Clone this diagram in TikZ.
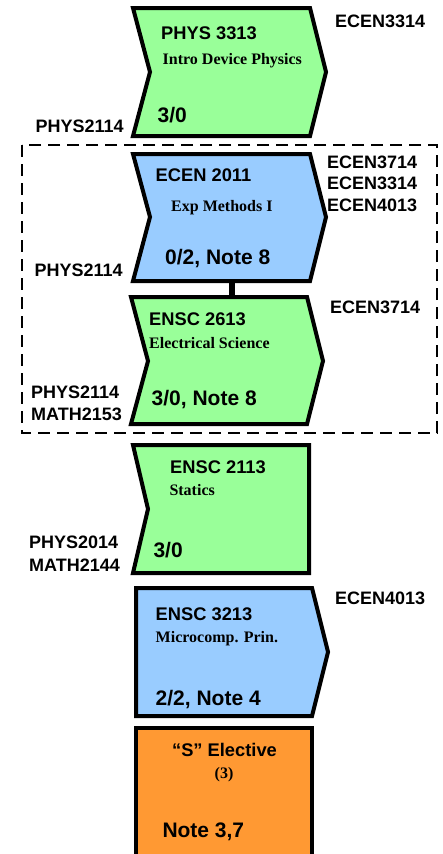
\documentclass[tikz,border=0pt]{standalone}
\usepackage{fontspec}
\setmainfont{Liberation Serif}
\setsansfont{Liberation Sans}
\usetikzlibrary{positioning}
\definecolor{crsgreen}{RGB}{153,255,153}
\definecolor{crsblue}{RGB}{153,204,255}
\definecolor{crsorange}{RGB}{255,153,51}

\begin{document}
\begin{tikzpicture}[x=1pt,y=-1pt,
   box/.style={draw,line width=4pt},
   num/.style={inner sep=0pt,anchor=base west,font=\sffamily\bfseries\fontsize{18.3}{18}\selectfont},
   title/.style={inner sep=0pt,anchor=base west,font=\rmfamily\bfseries\fontsize{16}{16}\selectfont},
   cred/.style={inner sep=0pt,anchor=base west,font=\sffamily\bfseries\fontsize{21}{21}\selectfont},
   req/.style={inner sep=0pt,anchor=base west,font=\sffamily\bfseries\fontsize{18}{18}\selectfont}]
   \useasboundingbox (0,0) rectangle (442,854);
   \draw[line width=2.5pt,dash pattern=on 12pt off 7pt] (22,145) rectangle (437,433);

   \draw[box,fill=crsgreen] (133,8) -- (310,8) -- (326,72) -- (310,136) -- (133,136) -- (150,72) -- cycle;
   \draw[box,fill=crsblue] (133,154) -- (310,154) -- (326,217) -- (310,281) -- (133,281) -- (150,217) -- cycle;
   \draw[box,fill=crsgreen] (131,297) -- (307,297) -- (323,361) -- (307,424) -- (131,424) -- (148,361) -- cycle;
   \draw[box,fill=crsgreen] (133,445) -- (309,445) -- (309,573) -- (133,573) -- (148,509) -- cycle;
   \draw[box,fill=crsblue] (136,588) -- (312,588) -- (328,652) -- (312,716) -- (136,716) -- cycle;
   \draw[box,fill=crsorange] (136,868) -- (136,728) -- (312,728) -- (312,868);

   \coordinate (ecen2011-s) at (232,281);
   \coordinate (ensc2613-n) at (232,297);
   \draw[line width=6.5pt] (ecen2011-s) -- (ensc2613-n);

   \node[num] (phys3313) at (161,39.3) {PHYS 3313};
   \node[title] (phys3313-t) at (162.5,64) {Intro Device Physics};
   \node[cred] (phys3313-c) at (157.5,122.3) {3/0};
   \node[req] (phys3313-r) at (335,27.7) {ECEN3314};
   \node[req] (phys3313-p) at (35.5,132) {PHYS2114};

   \node[num] (ecen2011) at (155.5,181.7) {ECEN 2011};
   \node[title] (ecen2011-t) at (171,211.7) {Exp Methods I};
   \node[cred] (ecen2011-c) at (165,264) {0/2, Note 8};
   \node[req] (ecen2011-r1) at (327,168.3) {ECEN3714};
   \node[req] (ecen2011-r2) at (327,189.7) {ECEN3314};
   \node[req] (ecen2011-r3) at (327,211) {ECEN4013};
   \node[req] (ecen2011-p) at (34.3,276.7) {PHYS2114};

   \node[num] (ensc2613) at (149,325.7) {ENSC 2613};
   \node[title] (ensc2613-t) at (149,348.3) {Electrical Science};
   \node[cred] (ensc2613-c) at (151.5,405.5) {3/0, Note 8};
   \node[req] (ensc2613-r) at (330,313.3) {ECEN3714};
   \node[req] (ensc2613-p1) at (31,398.3) {PHYS2114};
   \node[req] (ensc2613-p2) at (31,420.5) {MATH2153};

   \node[num] (ensc2113) at (170,473.3) {ENSC 2113};
   \node[title] (ensc2113-t) at (169.3,495) {Statics};
   \node[cred] (ensc2113-c) at (153.3,557) {3/0};
   \node[req] (ensc2113-p1) at (29,548.3) {PHYS2014};
   \node[req] (ensc2113-p2) at (29,571.5) {MATH2144};

   \node[num] (ensc3213) at (155.5,620) {ENSC 3213};
   \node[title] (ensc3213-t) at (155.5,642.3) {Microcomp. Prin.};
   \node[cred] (ensc3213-c) at (155.5,705) {2/2, Note 4};
   \node[req] (ensc3213-r) at (335,604.3) {ECEN4013};

   \node[num,anchor=base] (elective) at (224.5,756) {“S” Elective};
   \node[title,anchor=base] (elective-t) at (224,778) {(3)};
   \node[cred] (elective-c) at (162.3,837.5) {Note 3,7};
\end{tikzpicture}
\end{document}
